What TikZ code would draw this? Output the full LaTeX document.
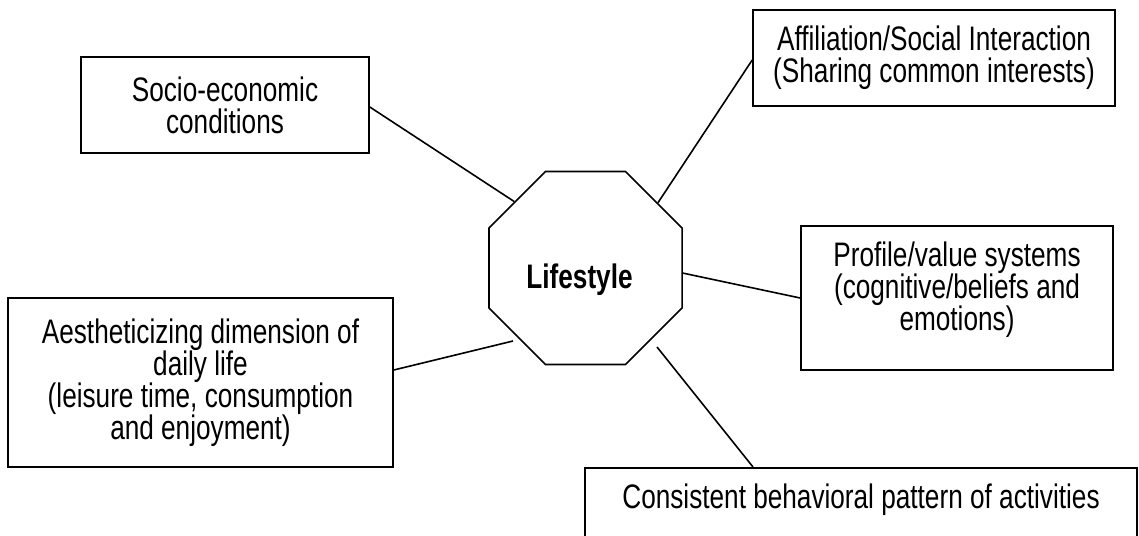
\documentclass[tikz,border=0pt]{standalone}
\usepackage{fontspec}
\setmainfont{Liberation Sans}[FakeStretch=0.77, Ligatures=CommonOff]
\usetikzlibrary{shapes.geometric}
\begin{document}
\begin{tikzpicture}[x=1pt,y=-1pt,
  txt/.style={font=\fontsize{34}{32}\selectfont},
  box/.style={draw, line width=1.6pt, rectangle, inner sep=0pt, align=center, txt},
  link/.style={line width=1.6pt}]
\useasboundingbox (0,0) rectangle (1139,535);
\clip (0,0) rectangle (1139,535);
\node[regular polygon, regular polygon sides=8, draw, line width=1.6pt,
      minimum size=209pt, inner sep=0pt, txt, font=\fontsize{34}{32}\selectfont\bfseries,
      text height=40pt, text depth=0pt] (oct) at (585.5,268) {Lifestyle\hspace*{12pt}};
\node[box, minimum width=288pt, minimum height=96pt] (socio) at (225,105)
  {Socio-economic\\conditions};
\node[box, minimum width=362pt, minimum height=96pt] (affil) at (934,58)
  {Affiliation/Social Interaction\\(Sharing common interests)};
\node[box, minimum width=312pt, minimum height=144pt, text depth=23pt] (prof) at (957,298)
  {Profile/value systems\\(cognitive/beliefs and\\emotions)};
\node[box, minimum width=385pt, minimum height=169pt] (aest) at (200.5,382.5)
  {Aestheticizing dimension of\\daily life\\(leisure time, consumption\\and enjoyment)};
\node[box, anchor=north, minimum width=552pt, inner ysep=17pt,
      text height=24pt, text depth=60pt] (cons) at (861,467)
  {Consistent behavioral pattern of activities};
\coordinate (e4) at (513,341);
\coordinate (e5) at (657,347);
\draw[link] ([yshift=-2pt]socio.east) -- (oct.137);
\draw[link] (oct.42) -- ([yshift=-2pt]affil.west);
\draw[link] (oct.-3.6) -- (prof.west);
\draw[link] ([yshift=12.5pt]aest.east) -- (e4);
\draw[link] (e5) -- ([xshift=-108pt]cons.north);
\end{tikzpicture}
\end{document}
